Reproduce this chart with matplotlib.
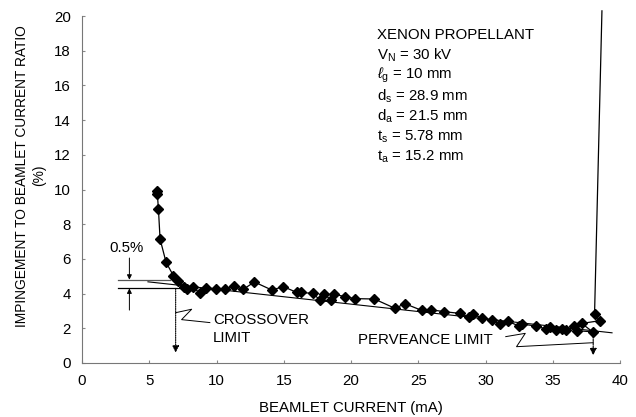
import matplotlib
matplotlib.use("Agg")
import matplotlib.pyplot as plt

plt.rcParams['font.family'] = ['Liberation Sans', 'DejaVu Sans']
plt.rcParams['mathtext.fontset'] = 'custom'
plt.rcParams['mathtext.rm'] = 'Liberation Sans'
plt.rcParams['mathtext.it'] = 'Liberation Sans:italic'

# Measured impingement ratio vs beamlet current (in acquisition order)
beamlet_current = [5.55, 5.6, 5.68, 5.80, 6.24, 6.79, 7.16, 7.58, 7.78, 8.28,
                   8.77, 9.22, 9.94, 10.6, 11.28, 11.97, 12.81, 14.1, 14.97, 15.96,
                   16.28, 17.15, 17.7, 18.0, 18.5, 18.7, 19.55, 20.3, 21.73, 23.27,
                   24.0, 25.26, 25.95, 26.9, 28.1, 28.8, 29.1, 29.7, 30.46, 31.1,
                   31.65, 32.5, 32.7, 33.73, 34.5, 34.8, 35.2, 35.7, 36.0, 36.6,
                   36.8, 37.95, 37.15, 38.5, 38.1, 38.65]
impingement_ratio = [9.9, 9.72, 8.86, 7.15, 5.82, 5.03, 4.73, 4.40, 4.25, 4.36,
                     4.01, 4.34, 4.27, 4.28, 4.44, 4.24, 4.67, 4.21, 4.40, 4.07,
                     4.07, 4.01, 3.63, 3.98, 3.63, 3.98, 3.82, 3.71, 3.69, 3.15,
                     3.42, 3.03, 3.07, 2.96, 2.86, 2.63, 2.81, 2.59, 2.48, 2.23,
                     2.40, 2.13, 2.25, 2.13, 1.96, 2.05, 1.90, 1.94, 1.88, 2.11,
                     1.86, 1.80, 2.28, 2.44, 2.80, 20.3]

# Straight-line fit through the plateau region
fit_current = [4.9, 39.4]
fit_ratio = [4.68, 1.74]

# Crossover / perveance limit levels
baseline_level = 4.30
offset_level = 4.80
crossover_current = 6.96
perveance_current = 38.0

x_ticks = [0, 5, 10, 15, 20, 25, 30, 35, 40]
y_ticks = [0, 2, 4, 6, 8, 10, 12, 14, 16, 18, 20]

conditions = [
    "XENON PROPELLANT",
    r"V$_\mathrm{N}$ = 30 kV",
    r"$\ell_\mathrm{g}$ = 10 mm",
    r"d$_\mathrm{s}$ = 28.9 mm",
    r"d$_\mathrm{a}$ = 21.5 mm",
    r"t$_\mathrm{s}$ = 5.78 mm",
    r"t$_\mathrm{a}$ = 15.2 mm",
]

fig = plt.figure(figsize=(6.36, 4.17), dpi=100)
ax = fig.add_axes([0.129, 0.1295, 0.846, 0.832])

ax.set_xlim(0, 40)
ax.set_ylim(0, 20)
ax.set_xticks(x_ticks)
ax.set_yticks(y_ticks)
ax.tick_params(labelsize=10.8, length=2, direction='in', color='#888888', pad=8)

for side in ('top', 'right'):
    ax.spines[side].set_visible(False)
for side in ('left', 'bottom'):
    ax.spines[side].set_color('#777777')
    ax.spines[side].set_linestyle((0, (1, 1)))
    ax.spines[side].set_linewidth(0.8)

# fit line
ax.plot(fit_current, fit_ratio, color='black', lw=0.8)

# measured data: connecting line runs up off-scale at the end
ax.plot(beamlet_current, impingement_ratio, color='black', lw=0.9, clip_on=False)
ax.plot(beamlet_current[:-1], impingement_ratio[:-1], linestyle='none',
        marker='D', markersize=5, color='black')

# 0.5 % band markers
ax.plot([2.7, 6.55], [offset_level, offset_level], color='#555555', lw=0.9)
ax.plot([2.7, 7.25], [baseline_level, baseline_level], color='black', lw=0.9)
ax.annotate('', xy=(3.52, offset_level), xytext=(3.52, 6.05),
            arrowprops=dict(arrowstyle='-|>', color='black', lw=0.7,
                            mutation_scale=7, shrinkA=0, shrinkB=0))
ax.annotate('', xy=(3.52, baseline_level), xytext=(3.52, 3.05),
            arrowprops=dict(arrowstyle='-|>', color='black', lw=0.7,
                            mutation_scale=7, shrinkA=0, shrinkB=0))
ax.text(3.3, 6.65, '0.5%', fontsize=10.8, ha='center', va='center')

# crossover limit arrow and leader
ax.annotate('', xy=(crossover_current, 0.6), xytext=(crossover_current, baseline_level),
            arrowprops=dict(arrowstyle='-|>', color='black', lw=0.8,
                            linestyle=(0, (1, 1)), mutation_scale=10,
                            shrinkA=0, shrinkB=0))
ax.plot([6.96, 8.15, 7.4, 9.5], [2.9, 3.1, 2.5, 2.33], color='black', lw=0.7)
ax.text(9.75, 2.48, 'CROSSOVER', fontsize=10.8, ha='left', va='center')
ax.text(9.75, 1.42, 'LIMIT', fontsize=10.8, ha='left', va='center')

# perveance limit arrow and leader
ax.annotate('', xy=(perveance_current, 0.45), xytext=(perveance_current, 1.75),
            arrowprops=dict(arrowstyle='-|>', color='black', lw=0.8,
                            linestyle=(0, (2, 1)), mutation_scale=10,
                            shrinkA=0, shrinkB=0))
ax.plot([31.5, 32.95, 32.3, 38.0], [1.52, 1.71, 0.94, 1.17], color='black', lw=0.7)
ax.text(20.55, 1.33, 'PERVEANCE LIMIT', fontsize=10.8, ha='left', va='center')

# operating conditions
for i, line in enumerate(conditions):
    ax.text(21.9, 18.9 - i * 1.17, line, fontsize=10.8, ha='left', va='center')

ax.set_xlabel('BEAMLET CURRENT (mA)', fontsize=10.8, labelpad=9)
ax.set_ylabel('IMPINGEMENT TO BEAMLET CURRENT RATIO\n(%)', fontsize=9.9,
              linespacing=1.35)
ax.yaxis.set_label_coords(-0.066, 0.54)

fig.savefig('out.png', dpi=100)
